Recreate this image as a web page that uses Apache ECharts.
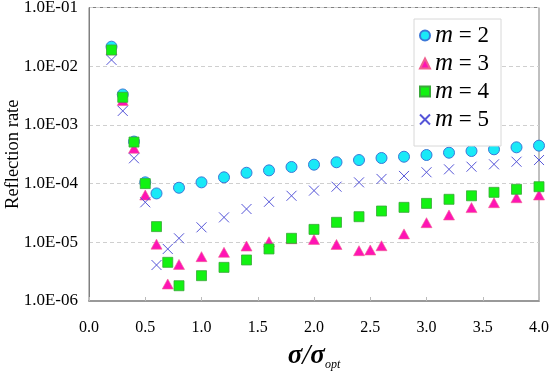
<!DOCTYPE html>
<html>
<head>
<meta charset="utf-8">
<script src="https://cdn.jsdelivr.net/npm/echarts@6/dist/echarts.min.js"></script>
<style>html,body{margin:0;padding:0;background:#fff;}#c{width:549px;height:374px;}</style>
</head>
<body>
<div id="c"></div>
<script>
const xTicks = ['0.0','0.5','1.0','1.5','2.0','2.5','3.0','3.5','4.0'];
const yTicks = ['1.0E-06','1.0E-05','1.0E-04','1.0E-03','1.0E-02','1.0E-01'];

const x2 = [0.2,0.3,0.4,0.5,0.6,0.8,1.0,1.2,1.4,1.6,1.8,2.0,2.2,2.4,2.6,2.8,3.0,3.2,3.4,3.6,3.8,4.0];
const y2 = [2.15e-2,3.3e-3,5.2e-4,1.05e-4,6.8e-5,8.5e-5,1.05e-4,1.28e-4,1.53e-4,1.68e-4,1.92e-4,2.1e-4,2.31e-4,2.52e-4,2.73e-4,2.87e-4,3.07e-4,3.36e-4,3.59e-4,3.84e-4,4.15e-4,4.43e-4];

const x3 = [0.2,0.3,0.4,0.5,0.6,0.7,0.8,1.0,1.2,1.4,1.6,1.8,2.0,2.2,2.4,2.5,2.6,2.8,3.0,3.2,3.4,3.6,3.8,4.0];
const y3 = [1.9e-2,2.6e-3,4.0e-4,6.4e-5,9.3e-6,1.95e-6,4.2e-6,5.7e-6,6.75e-6,8.65e-6,1.02e-5,1.15e-5,1.12e-5,9.2e-6,7.2e-6,7.4e-6,8.75e-6,1.39e-5,2.16e-5,2.92e-5,3.9e-5,4.73e-5,5.75e-5,6.4e-5];

const x4 = [0.2,0.3,0.4,0.5,0.6,0.7,0.8,1.0,1.2,1.4,1.6,1.8,2.0,2.2,2.4,2.6,2.8,3.0,3.2,3.4,3.6,3.8,4.0];
const y4 = [1.89e-2,2.95e-3,5.1e-4,1.0e-4,1.85e-5,4.56e-6,1.82e-6,2.7e-6,3.74e-6,5.0e-6,7.7e-6,1.17e-5,1.66e-5,2.19e-5,2.73e-5,3.41e-5,3.94e-5,4.6e-5,5.4e-5,6.2e-5,7.1e-5,8.0e-5,8.85e-5];

const x5 = [0.2,0.3,0.4,0.5,0.6,0.7,0.8,1.0,1.2,1.4,1.6,1.8,2.0,2.2,2.4,2.6,2.8,3.0,3.2,3.4,3.6,3.8,4.0];
const y5 = [1.28e-2,1.73e-3,2.7e-4,4.8e-5,4.1e-6,7.7e-6,1.17e-5,1.8e-5,2.66e-5,3.69e-5,4.9e-5,6.2e-5,7.6e-5,8.85e-5,1.05e-4,1.2e-4,1.35e-4,1.56e-4,1.75e-4,1.94e-4,2.13e-4,2.36e-4,2.52e-4];

const names = ['m=2','m=3','m=4','m=5'];

function pairs(xs, ys){ return xs.map((x,i)=>[x, ys[i]]); }

const serif = 'Liberation Serif';
const crossPath = 'path://M0,0L10,10M10,0L0,10';

const chart = echarts.init(document.getElementById('c'), null, {renderer:'canvas'});
chart.setOption({
  animation: false,
  backgroundColor: '#fff',
  grid: {left: 89, right: 10, top: 7.5, bottom: 73, containLabel: false, outerBoundsMode: 'none',
    show: true, borderColor: '#808080', borderWidth: 1, backgroundColor: 'transparent'},
  legend: {
    orient: 'vertical',
    left: 414, top: 19,
    width: 90,
    padding: [4, 12, 14, 5],
    itemGap: 3,
    itemWidth: 10, itemHeight: 10,
    backgroundColor: '#fff',
    borderColor: '#d8d8d8', borderWidth: 1,
    data: names,
    formatter: function(n){ return '{i|m}{t| = ' + n.split('=')[1] + '}'; },
    textStyle: {
      fontFamily: serif, fontSize: 22, color: '#000',
      rich: {
        i: {fontFamily: serif, fontSize: 25, fontStyle: 'italic', color: '#000'},
        t: {fontFamily: serif, fontSize: 23, color: '#000'}
      }
    }
  },
  xAxis: {
    type: 'value', min: 0, max: 4, interval: 0.5,
    name: '{a|σ}{s|/}{a|σ}{b|opt}',
    nameLocation: 'middle', nameGap: 41, nameMoveOverlap: false,
    nameTextStyle: {
      rich: {
        a: {fontFamily: serif, fontSize: 27, fontStyle: 'italic', fontWeight: 'bold', color: '#000'},
        s: {fontFamily: serif, fontSize: 29, fontStyle: 'italic', color: '#000'},
        b: {fontFamily: serif, fontSize: 12, fontStyle: 'italic', color: '#000', verticalAlign: 'bottom', padding: [14,0,0,0]}
      }
    },
    axisLine: {show: true, lineStyle: {color: '#999', width: 2}},
    axisTick: {show: true, inside: true, length: 4, lineStyle: {color: '#bbb'}},
    axisLabel: {fontFamily: serif, fontSize: 16, color: '#000', margin: 19,
      formatter: function(v){ const i = Math.round(v*2); return xTicks[i]; }},
    splitLine: {show: false}
  },
  yAxis: {
    type: 'log', logBase: 10, min: 1e-6, max: 1e-1,
    name: 'Reflection rate',
    nameLocation: 'middle', nameGap: 66, nameMoveOverlap: false,
    nameTextStyle: {fontFamily: serif, fontSize: 18.5, color: '#000'},
    axisLine: {show: true, lineStyle: {color: '#808080', width: 1}},
    axisTick: {show: false},
    axisLabel: {fontFamily: serif, fontSize: 17, color: '#000', margin: 11,
      formatter: function(v){ const e = Math.round(Math.log10(v)); return yTicks[e + 6]; }},
    splitLine: {show: true, lineStyle: {color: '#cfcfcf', type: [4,3], width: 1}}
  },
  series: [
    {name: names[0], type: 'scatter', symbol: 'circle', symbolSize: 11, data: pairs(x2, y2),
      itemStyle: {color: '#19e9f7', borderColor: '#3b78d8', borderWidth: 1, opacity: 1}},
    {name: names[1], type: 'scatter', symbol: 'triangle', symbolSize: [11, 10], data: pairs(x3, y3),
      itemStyle: {color: '#ff14b4', borderColor: '#f06090', borderWidth: 0.6, opacity: 1}},
    {name: names[2], type: 'scatter', symbol: 'rect', symbolSize: 10, data: pairs(x4, y4),
      itemStyle: {color: '#12f212', borderColor: '#3aa83a', borderWidth: 0.8, opacity: 1}},
    {name: names[3], type: 'scatter', symbol: crossPath, symbolSize: 10, data: pairs(x5, y5),
      itemStyle: {color: 'transparent', borderColor: '#5555d8', borderWidth: 1, opacity: 1}}
  ]
});
</script>
</body>
</html>
